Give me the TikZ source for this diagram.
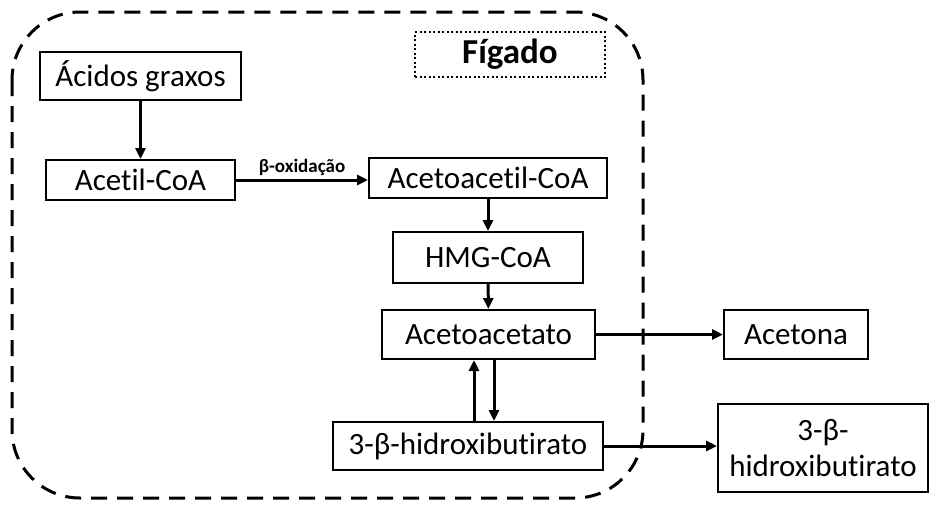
\documentclass[tikz,border=0pt]{standalone}
\usepackage{fontspec}
\setmainfont{Carlito}[Ligatures={NoCommon,NoRare}]
\usetikzlibrary{arrows.meta, positioning}

\tikzset{
  stepbox/.style={draw, line width=2pt, inner sep=0pt, align=center, font=\fontsize{31}{36}\selectfont},
  arr/.style={line width=3pt, -{Triangle[length=11pt,width=10pt]}},
}

\begin{document}
\begin{tikzpicture}[x=1pt, y=-1pt]
\useasboundingbox (0,0) rectangle (929,504);

% Liver region
\draw[line width=3pt, dash pattern=on 16pt off 10pt, rounded corners=68pt] (12,12) rectangle (643,498);
\node[draw, line width=2pt, dash pattern=on 2pt off 2.5pt, minimum width=190pt, minimum height=45pt,
      font=\bfseries\fontsize{35}{38}\selectfont] (figado) at (510,54.5) {Fígado};

% Pathway steps
\node[stepbox, minimum width=201pt, minimum height=48pt] (acidos) at (140.5,76) {Ácidos graxos};
\node[stepbox, minimum width=189pt, minimum height=40pt] (acetil) at (140.5,180) {Acetil-CoA};
\node[stepbox, minimum width=238pt, minimum height=40pt] (acetoacetil) at (488,178) {Acetoacetil-CoA};
\node[stepbox, minimum width=190pt, minimum height=51pt] (hmg) at (488,257.5) {HMG-CoA};
\node[stepbox, minimum width=213pt, minimum height=49pt] (acetoacetato) at (488.5,334.5) {Acetoacetato};
\node[stepbox, minimum width=270pt, minimum height=48pt] (hidroxi) at (468,446) {3-β-hidroxibutirato};

% Outside the liver
\node[stepbox, minimum width=144pt, minimum height=49pt] (acetona) at (796,334.5) {Acetona};
\node[stepbox, minimum width=210pt, minimum height=88pt] (hidroxiout) at (823,448) {3-β-\\hidroxibutirato};

% Arrows
\draw[arr] (acidos) -- (acetil);
\draw[arr] (acetil.east) -- node[above=-1pt, font=\bfseries\fontsize{19}{20}\selectfont] (betaox) {β-oxidação} (acetil.east -| acetoacetil.west);
\draw[arr] (acetoacetil) -- (hmg);
\draw[arr] (hmg) -- (acetoacetato);
\draw[arr] ([xshift=-14.5pt]acetoacetato.south |- hidroxi.north) -- ([xshift=-14.5pt]acetoacetato.south);
\draw[arr] ([xshift=5.5pt]acetoacetato.south) -- ([xshift=5.5pt]acetoacetato.south |- hidroxi.north);
\draw[arr] (acetoacetato) -- (acetona);
\draw[arr] (hidroxi.east) -- (hidroxi.east -| hidroxiout.west);
\end{tikzpicture}
\end{document}
